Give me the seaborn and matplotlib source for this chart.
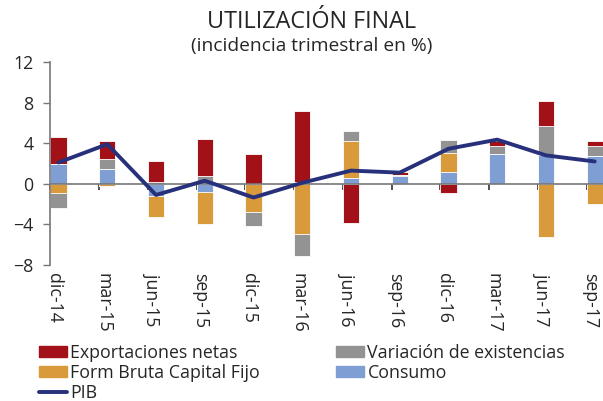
import numpy as np
import pandas as pd
import matplotlib
matplotlib.use("Agg")
import matplotlib.pyplot as plt
import matplotlib.transforms as mtransforms
import seaborn as sns
from matplotlib.patches import Patch
from matplotlib.lines import Line2D

# === Data (incidencia trimestral en %) ===
trimestres = ["dic-14", "mar-15", "jun-15", "sep-15", "dic-15", "mar-16",
              "jun-16", "sep-16", "dic-16", "mar-17", "jun-17", "sep-17"]
consumo = [1.95, 1.5, -1.25, -0.8, 0.0, 0.2, 0.55, 0.72, 1.12, 2.93, 2.83, 2.7]
fbcf = [-0.9, -0.25, -2.0, -3.2, -2.8, -4.95, 3.7, 0.1, 1.94, 0.0, -5.2, -2.0]
variacion = [-1.5, 0.9, 0.15, 0.8, -1.4, -2.2, 0.95, 0.0, 1.25, 0.75, 2.86, 1.0]
exportaciones = [2.65, 1.85, 2.05, 3.6, 2.9, 6.95, -3.9, 0.38, -0.95, 0.5, 2.43, 0.55]
pib = [2.1, 3.9, -1.1, 0.3, -1.35, 0.1, 1.3, 1.1, 3.45, 4.35, 2.8, 2.2]

colors = {
    "Consumo": "#7F9FD4",
    "Form Bruta Capital Fijo": "#D99A3B",
    "Variación de existencias": "#939393",
    "Exportaciones netas": "#A11117",
}
pib_color = "#27307A"

# stacking order from the zero line outwards
layers = pd.DataFrame({
    "Consumo": consumo,
    "Form Bruta Capital Fijo": fbcf,
    "Variación de existencias": variacion,
    "Exportaciones netas": exportaciones,
})
pos = layers.clip(lower=0).cumsum(axis=1)
neg = layers.clip(upper=0).cumsum(axis=1)
idx = np.arange(len(trimestres))
bar_w = 0.33

sns.set_style("white")
plt.rcParams["font.family"] = ["Open Sans", "DejaVu Sans"]

fig = plt.figure(figsize=(6.03, 4.01), dpi=100)
ax = fig.add_axes([50 / 603, 1 - 265 / 401, 553 / 603, 203 / 401])

# draw outermost cumulative layer first, inner layers on top
for name in reversed(layers.columns):
    for part in (pos, neg):
        sns.barplot(x=idx, y=part[name].values, color=colors[name], width=bar_w,
                    saturation=1, edgecolor="white", linewidth=0.6, ax=ax)

ax.axhline(0, color="#777777", linewidth=1.2, zorder=2)
sns.lineplot(x=idx, y=pib, color=pib_color, linewidth=2.8, ax=ax, zorder=3)

ax.set_ylim(-8, 12)
ax.set_yticks([-8, -4, 0, 4, 8, 12])
ax.set_xlim(-bar_w / 2 - 0.01, len(trimestres) - 1 + 0.17)
ax.set_xticks(idx)
ax.set_xticklabels(trimestres, rotation=-90, ha="center", va="top")
ax.tick_params(axis="x", length=0, pad=6, labelsize=12.8)
ax.tick_params(axis="y", length=5, width=1, color="#777777", direction="out",
               left=True, pad=7, labelsize=12.8)
shift = mtransforms.ScaledTranslation(-3 / 72, 0, fig.dpi_scale_trans)
for lbl in ax.get_xticklabels():
    lbl.set_transform(lbl.get_transform() + shift)
for s in ["top", "right", "bottom"]:
    ax.spines[s].set_visible(False)
ax.spines["left"].set_color("#777777")
ax.spines["left"].set_linewidth(1.2)
ax.set_xlabel("")
ax.set_ylabel("")

# category tick marks on the zero line
zero = ax.secondary_xaxis(0.4)
zero.set_xticks(idx - bar_w / 2)
zero.set_xticklabels([])
zero.tick_params(axis="x", length=4, width=1.2, color="#333333", direction="out")
zero.spines["bottom"].set_visible(False)

fig.text(312 / 603, 1 - 22 / 401, "UTILIZACIÓN FINAL", ha="center", va="center",
         fontsize=16.8)
fig.text(312 / 603, 1 - 46 / 401, "(incidencia trimestral en %)", ha="center",
         va="center", fontsize=13.8)

handles = [
    Patch(color=colors["Exportaciones netas"], label="Exportaciones netas"),
    Patch(color=colors["Form Bruta Capital Fijo"], label="Form Bruta Capital Fijo"),
    Line2D([], [], color=pib_color, linewidth=2.8, label="PIB"),
    Patch(color=colors["Variación de existencias"], label="Variación de existencias"),
    Patch(color=colors["Consumo"], label="Consumo"),
]
fig.legend(handles=handles, ncol=2, loc="upper left",
           bbox_to_anchor=(39 / 603, 1 - 344 / 401), frameon=False,
           fontsize=12.8, handlelength=1.55, handleheight=0.55, handletextpad=0.2,
           columnspacing=4.3, labelspacing=0.1, borderpad=0, borderaxespad=0)

plt.savefig("out.png", dpi=100)
